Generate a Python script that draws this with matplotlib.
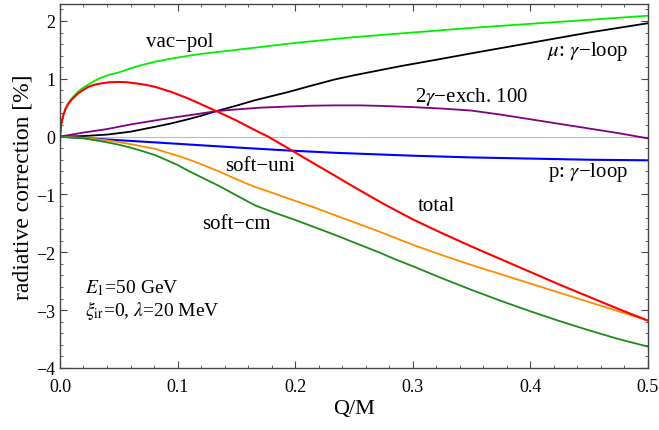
import matplotlib
matplotlib.use("Agg")
import matplotlib.pyplot as plt
import numpy as np
from matplotlib.ticker import MultipleLocator, FormatStrFormatter

# values, x = Q/M, y = radiative correction [%]
x_vac = [0, 0.001, 0.002, 0.003, 0.005, 0.0075, 0.01, 0.015, 0.02, 0.024, 0.03,
         0.035, 0.042, 0.05, 0.06, 0.07, 0.082, 0.095, 0.11, 0.12,
         0.15, 0.2, 0.25, 0.3, 0.35, 0.4, 0.45, 0.5]
y_vac = [0, 0.20, 0.30, 0.38, 0.50, 0.59, 0.66, 0.77, 0.85, 0.90, 0.97,
         1.02, 1.07, 1.11, 1.18, 1.24, 1.30, 1.35, 1.40, 1.43,
         1.50, 1.62, 1.72, 1.80, 1.88, 1.95, 2.02, 2.09]

x_tot = [0, 0.001, 0.002, 0.003, 0.005, 0.0075, 0.01, 0.015, 0.02, 0.024, 0.03,
         0.035, 0.042, 0.05, 0.057, 0.065, 0.073, 0.081, 0.095,
         0.109, 0.12, 0.133, 0.15, 0.166, 0.177, 0.194, 0.208, 0.23, 0.25,
         0.275, 0.3, 0.325, 0.35, 0.375, 0.4, 0.425, 0.45, 0.475, 0.5]
y_tot = [0, 0.20, 0.30, 0.38, 0.49, 0.58, 0.64, 0.74, 0.81, 0.86, 0.90,
         0.92, 0.94, 0.945, 0.94, 0.92, 0.895, 0.86, 0.77,
         0.66, 0.56, 0.44, 0.28, 0.11, 0.0, -0.20, -0.37, -0.63, -0.87,
         -1.16, -1.43, -1.67, -1.90, -2.12, -2.34, -2.56, -2.77, -2.98, -3.18]

x_mu = [0, 0.02, 0.04, 0.06, 0.081, 0.095, 0.109, 0.12, 0.133, 0.15, 0.166, 0.18,
        0.194, 0.21, 0.234, 0.25, 0.27, 0.29, 0.315, 0.35, 0.375, 0.4, 0.425,
        0.45, 0.475, 0.5]
y_mu = [0, 0.01, 0.035, 0.085, 0.17, 0.23, 0.30, 0.36, 0.44, 0.535, 0.63, 0.70,
        0.77, 0.86, 0.99, 1.06, 1.14, 1.22, 1.31, 1.44, 1.53, 1.62, 1.71,
        1.80, 1.88, 1.96]

x_2g = [0, 0.02, 0.04, 0.06, 0.081, 0.1, 0.12, 0.133, 0.15, 0.17, 0.194, 0.215,
        0.234, 0.255, 0.275, 0.3, 0.325, 0.35, 0.375, 0.4, 0.425, 0.45, 0.475, 0.5]
y_2g = [0, 0.07, 0.13, 0.21, 0.28, 0.34, 0.40, 0.44, 0.47, 0.50, 0.52, 0.535,
        0.54, 0.54, 0.53, 0.51, 0.485, 0.45, 0.38, 0.30, 0.22, 0.14, 0.06, -0.03]

x_p = [0, 0.04, 0.081, 0.12, 0.16, 0.194, 0.234, 0.3, 0.35, 0.4, 0.45, 0.5]
y_p = [0, -0.05, -0.10, -0.15, -0.20, -0.24, -0.28, -0.33, -0.36, -0.38, -0.40, -0.41]

x_soft = [0, 0.02, 0.038, 0.05, 0.06, 0.07, 0.081, 0.09, 0.1, 0.11, 0.123, 0.135,
          0.145, 0.155, 0.166, 0.183, 0.2, 0.217, 0.234, 0.25, 0.27, 0.285, 0.3,
          0.325, 0.35, 0.375, 0.4, 0.425, 0.45, 0.475, 0.5]
y_uni = [0, -0.02, -0.06, -0.095, -0.13, -0.17, -0.21, -0.27, -0.33, -0.40, -0.50, -0.60,
         -0.69, -0.78, -0.87, -0.99, -1.11, -1.23, -1.36, -1.48, -1.63, -1.75, -1.87,
         -2.05, -2.22, -2.38, -2.54, -2.70, -2.86, -3.02, -3.18]
y_cm = [0, -0.03, -0.09, -0.14, -0.19, -0.25, -0.32, -0.40, -0.49, -0.60, -0.73, -0.85,
        -0.96, -1.07, -1.19, -1.32, -1.44, -1.57, -1.70, -1.83, -1.99, -2.12, -2.24,
        -2.45, -2.65, -2.84, -3.02, -3.19, -3.35, -3.50, -3.63]

plt.rcParams['font.family'] = 'serif'
plt.rcParams['font.serif'] = ['Liberation Serif', 'DejaVu Serif']
plt.rcParams['mathtext.fontset'] = 'stix'

fig = plt.figure(figsize=(6.59, 4.31), dpi=100)
ax = fig.add_axes([0.091, 0.144, 0.892, 0.844])

ax.axhline(0, color='#bbbbbb', lw=0.8, zorder=1)
ax.plot(x_vac, y_vac, color='#00ee00', lw=1.3)
ax.plot(x_mu, y_mu, color='black', lw=1.3)
ax.plot(x_2g, y_2g, color='#800080', lw=1.3)
ax.plot(x_p, y_p, color='#0000ff', lw=1.5)
ax.plot(x_soft, y_uni, color='#ff8c00', lw=1.3)
ax.plot(x_soft, y_cm, color='#1a8c1a', lw=1.3)
ax.plot(x_tot, y_tot, color='#ff0000', lw=1.5)

fs = 15
ax.text(0.102, 1.64, 'vac\u2212pol', fontsize=fs, ha='center', va='center')
ax.text(0.449, 1.49, '$\\mu$: $\\gamma$\u2212loop', fontsize=fs, ha='center', va='center')
ax.text(0.350, 0.71, '2$\\gamma$\u2212exch. 100', fontsize=fs, ha='center', va='center')
ax.text(0.449, -0.61, 'p: $\\gamma$\u2212loop', fontsize=fs, ha='center', va='center')
ax.text(0.320, -1.19, 'total', fontsize=fs, ha='center', va='center')
ax.text(0.170, -0.50, 'soft\u2212uni', fontsize=fs, ha='center', va='center')
ax.text(0.150, -1.51, 'soft\u2212cm', fontsize=fs, ha='center', va='center')
ax.text(0.021, -2.60, '$E_1$=50 GeV', fontsize=14, ha='left', va='center')
ax.text(0.021, -2.99, r'$\xi_{\rm ir}$=0, $\lambda$=20 MeV', fontsize=14, ha='left', va='center')

ax.set_xlim(0, 0.5)
ax.set_ylim(-4, 2.29)
ax.xaxis.set_major_locator(MultipleLocator(0.1))
ax.xaxis.set_minor_locator(MultipleLocator(0.02))
ax.xaxis.set_major_formatter(FormatStrFormatter('%.1f'))
ax.yaxis.set_major_locator(MultipleLocator(1))
ax.yaxis.set_minor_locator(MultipleLocator(0.2))
ax.tick_params(which='both', direction='in', top=True, right=True, colors='#444444',
               labelcolor='black', labelsize=13)
ax.tick_params(which='major', length=5, width=0.8)
ax.tick_params(which='minor', length=2.5, width=0.6)
ax.tick_params(axis='x', which='major', pad=7)
for s in ax.spines.values():
    s.set_color('#444444')
    s.set_linewidth(1.0)

ax.set_xlabel('Q/M', fontsize=16, labelpad=3)
ax.set_ylabel('radiative correction [%]', fontsize=17, labelpad=2)

fig.savefig('out.png', dpi=100)
